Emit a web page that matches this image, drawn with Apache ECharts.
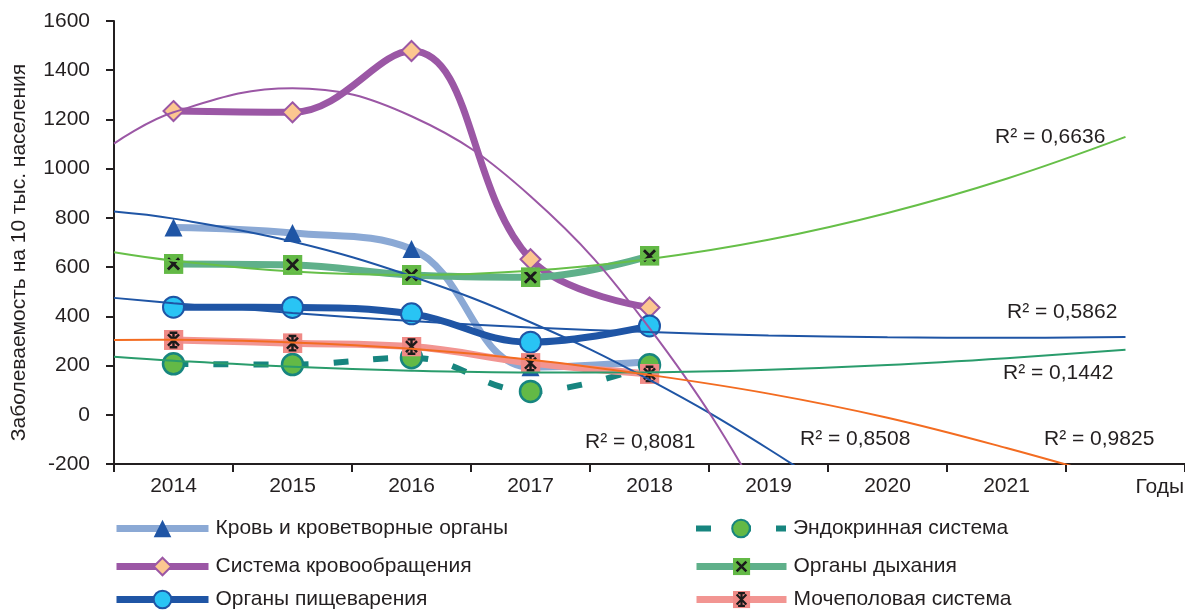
<!DOCTYPE html>
<html>
<head>
<meta charset="utf-8">
<title>Заболеваемость на 10 тыс. населения</title>
<script src="https://cdn.jsdelivr.net/npm/echarts@6/dist/echarts.min.js"></script>
<style>
  html, body { margin: 0; padding: 0; background: #fff; }
  #chart { width: 1185px; height: 610px; }
</style>
</head>
<body>
<div id="chart"></div>
<script>
// годы наблюдения
const years = [2014, 2015, 2016, 2017, 2018]
// подписи оси X (последняя ячейка пустая - место под прогноз)
const axisYears = ['2014', '2015', '2016', '2017', '2018', '2019', '2020', '2021', '']
// значения оси Y
const yTicks = { min: -200, max: 1600, step: 200 }

// фактические значения
const krov = [761, 739, 674, 193, 215]
const krovoobr = [1234, 1229, 1478, 632, 436]
const pishch = [437, 436, 410, 295, 361]
const endokr = [207, 204, 232, 95, 203]
const dykh = [613, 609, 568, 559, 646]
const mochep = [304, 291, 277, 210, 166]

// линии тренда (полиномиальные)
const trendYears = [2013.5, 2014, 2015, 2016, 2017, 2018, 2019, 2020, 2021, 2022]
const krovTrend = [826, 797, 704, 563, 376, 142, -139, -466, -840, -1260]
const krovoobrTrend = [1102, 1229, 1327, 1213, 888, 352, -395, -1352, -2520, -3900]
const pishchTrend = [475, 453, 414, 381, 355, 336, 322, 315, 313, 316]
const endokrTrend = [236, 220, 195, 179, 172, 173, 183, 202, 230, 264]
const dykhTrend = [660, 626, 582, 568, 585, 633, 711, 820, 959, 1129]
const mochepTrend = [304, 305, 294, 268, 224, 162, 86, -12, -135, -272]

// коэффициенты детерминации
const r2Labels = ['R² = 0,6636', 'R² = 0,5862', 'R² = 0,1442', 'R² = 0,8508', 'R² = 0,9825', 'R² = 0,8081']

const names = [
  'Кровь и кроветворные органы',
  'Система кровообращения',
  'Органы пищеварения',
  'Эндокринная система',
  'Органы дыхания',
  'Мочеполовая система'
]

const FONT = '"Liberation Sans", Arial, sans-serif'
const TEXT = '#231f20'

function pairs (xs, ys) {
  return xs.map((x, i) => [x, ys[i]])
}

function svgSymbol (svg) {
  return 'image://data:image/svg+xml;charset=utf-8,' + encodeURIComponent(svg)
}

// зелёный квадрат с крестом
const crossSquare = svgSymbol(
  "<svg xmlns='http://www.w3.org/2000/svg' width='36' height='36' viewBox='0 0 18 18'>" +
  "<rect width='18' height='18' fill='#63b946'/>" +
  "<path d='M4 4L14 14M14 4L4 14' stroke='#1b1b1b' stroke-width='2.6' fill='none'/></svg>"
)
// розовый квадрат со звёздочкой
const starSquare = svgSymbol(
  "<svg xmlns='http://www.w3.org/2000/svg' width='36' height='36' viewBox='0 0 18 18'>" +
  "<rect width='18' height='18' fill='#f08a86'/>" +
  "<path d='M9 2V16M4 4L14 14M14 4L4 14M5.5 2.5H12.5M5.5 15.5H12.5' stroke='#1b1b1b' stroke-width='2.2' fill='none'/></svg>"
)

function trend (data, color) {
  return {
    type: 'line',
    xAxisIndex: 1,
    data: pairs(trendYears, data),
    smooth: 0.4,
    symbol: 'none',
    silent: true,
    z: 4,
    clip: true,
    lineStyle: { color: color, width: 2 }
  }
}

// отдельная легенда на каждый ряд, чтобы разложить их в две колонки
function legendItem (name, left, top, width, lineWidth) {
  return {
    left: left,
    top: top,
    padding: 0,
    itemWidth: width,
    itemHeight: 22,
    data: [name],
    lineStyle: { width: lineWidth },
    textStyle: { color: TEXT, fontSize: 21, fontFamily: FONT, padding: [0, 0, 0, 2] }
  }
}

const myChart = echarts.init(document.getElementById('chart'))
const option = {
  animation: false,
  backgroundColor: '#fff',
  grid: {
    left: 114,
    right: 0,
    top: 21,
    bottom: 146,
    outerBoundsMode: 'none'
  },
  xAxis: [
    {
      type: 'category',
      data: axisYears,
      boundaryGap: true,
      axisLine: { onZero: false, lineStyle: { color: TEXT, width: 2 } },
      axisTick: { show: true, length: 8, lineStyle: { color: TEXT, width: 2 } },
      axisLabel: { color: TEXT, fontSize: 21, fontFamily: FONT, margin: 12 },
      splitLine: { show: false }
    },
    {
      type: 'value',
      min: 2013.5,
      max: 2022.5,
      show: false
    }
  ],
  yAxis: {
    type: 'value',
    min: yTicks.min,
    max: yTicks.max,
    interval: yTicks.step,
    name: 'Заболеваемость на 10 тыс. населения',
    nameLocation: 'middle',
    nameGap: 84,
    nameTextStyle: { color: TEXT, fontSize: 21, fontFamily: FONT, padding: [0, 20, 0, 0] },
    axisLine: { show: true, onZero: false, lineStyle: { color: TEXT, width: 2 } },
    axisTick: { show: true, length: 8, lineStyle: { color: TEXT, width: 2 } },
    axisLabel: { color: TEXT, fontSize: 21, fontFamily: FONT, margin: 24, formatter: (v) => String(v) },
    splitLine: { show: false }
  },
  legend: [
    legendItem(names[0], 113, 518, 92, 7),
    legendItem(names[1], 113, 556, 92, 7),
    legendItem(names[2], 113, 589, 92, 7),
    legendItem(names[3], 693, 518, 90, 6),
    legendItem(names[4], 693, 556, 90, 7),
    legendItem(names[5], 693, 589, 90, 7)
  ],
  graphic: [
    { type: 'text', left: 995, top: 127, style: { text: r2Labels[0], font: '21px ' + FONT, fill: TEXT } },
    { type: 'text', left: 1007, top: 302, style: { text: r2Labels[1], font: '21px ' + FONT, fill: TEXT } },
    { type: 'text', left: 1003, top: 363, style: { text: r2Labels[2], font: '21px ' + FONT, fill: TEXT } },
    { type: 'text', left: 800, top: 429, style: { text: r2Labels[3], font: '21px ' + FONT, fill: TEXT } },
    { type: 'text', left: 1044, top: 429, style: { text: r2Labels[4], font: '21px ' + FONT, fill: TEXT } },
    { type: 'text', left: 585, top: 432, style: { text: r2Labels[5], font: '21px ' + FONT, fill: TEXT } },
    { type: 'text', right: 1, top: 477, style: { text: 'Годы', font: '21px ' + FONT, fill: TEXT } }
  ],
  series: [
    {
      name: names[0],
      type: 'line',
      xAxisIndex: 1,
      data: pairs(years, krov),
      smooth: 0.4,
      symbol: 'triangle',
      symbolSize: 18,
      lineStyle: { color: '#8ba9d5', width: 7 },
      itemStyle: { color: '#1f55a5' }
    },
    {
      name: names[1],
      type: 'line',
      xAxisIndex: 1,
      data: pairs(years, krovoobr),
      smooth: 0.4,
      symbol: 'diamond',
      symbolSize: 20,
      lineStyle: { color: '#9b57a5', width: 7 },
      itemStyle: { color: '#fcc790', borderColor: '#9b57a5', borderWidth: 2 }
    },
    {
      name: names[2],
      type: 'line',
      xAxisIndex: 1,
      data: pairs(years, pishch),
      smooth: 0.4,
      symbol: 'circle',
      symbolSize: 21,
      lineStyle: { color: '#1f55a5', width: 7 },
      itemStyle: { color: '#29c4f4', borderColor: '#1f55a5', borderWidth: 2 }
    },
    {
      name: names[3],
      type: 'line',
      xAxisIndex: 1,
      data: pairs(years, endokr),
      smooth: 0.4,
      symbol: 'circle',
      symbolSize: 21,
      lineStyle: { color: '#17857f', width: 6, type: [15, 25] },
      itemStyle: { color: '#63b946', borderColor: '#17857f', borderWidth: 2.5 }
    },
    {
      name: names[4],
      type: 'line',
      xAxisIndex: 1,
      data: pairs(years, dykh),
      smooth: 0.4,
      symbol: crossSquare,
      symbolSize: 20,
      lineStyle: { color: '#5fb08a', width: 7 },
      itemStyle: { color: '#63b946' }
    },
    {
      name: names[5],
      type: 'line',
      xAxisIndex: 1,
      data: pairs(years, mochep),
      smooth: 0.4,
      symbol: starSquare,
      symbolSize: 20,
      lineStyle: { color: '#f29592', width: 7 },
      itemStyle: { color: '#f08a86' }
    },
    // тренды
    trend(krovTrend, '#1f55a5'),
    trend(krovoobrTrend, '#9b57a5'),
    trend(pishchTrend, '#1f55a5'),
    trend(endokrTrend, '#2a9c6c'),
    trend(dykhTrend, '#66bf48'),
    trend(mochepTrend, '#f36c21')
  ]
}
myChart.setOption(option)
</script>
</body>
</html>
